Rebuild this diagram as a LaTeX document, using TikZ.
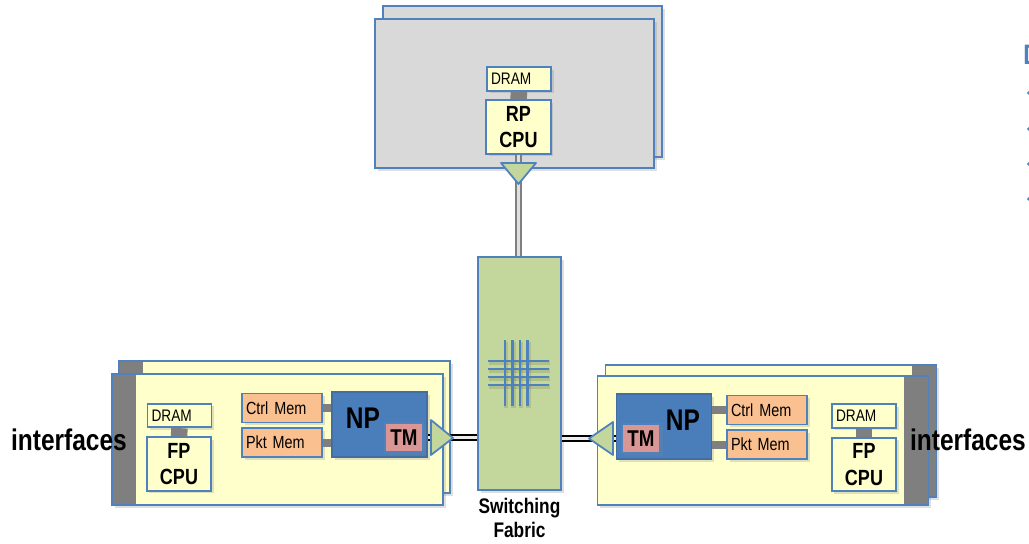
\documentclass[tikz,border=0pt]{standalone}
\usepackage{fontspec}
\setmainfont[FakeStretch=0.82]{Liberation Sans}
\usetikzlibrary{shadows}
\definecolor{blueline}{RGB}{79,129,189}
\definecolor{npblue}{RGB}{74,126,187}
\definecolor{cardgray}{RGB}{217,217,217}
\definecolor{cardyellow}{RGB}{255,255,204}
\definecolor{fabricgreen}{RGB}{195,214,155}
\definecolor{memorange}{RGB}{250,192,144}
\definecolor{tmpink}{RGB}{217,150,148}
\definecolor{tabgray}{RGB}{127,127,127}

\tikzset{
  box/.style={draw=blueline, line width=1pt, inner sep=0pt,
    drop shadow={shadow xshift=1.5pt, shadow yshift=-1.5pt, opacity=0.25}},
  rpcardbox/.style={box, fill=cardgray, minimum width=5.58cm},
  card/.style={box, fill=cardyellow, minimum width=6.62cm},
  tableft/.style={card, path picture={\fill[tabgray] (path picture bounding box.north west)
    rectangle ([xshift=0.48cm]path picture bounding box.south west);}},
  tabright/.style={card, path picture={\fill[tabgray] ([xshift=-0.49cm]path picture bounding box.north east)
    rectangle (path picture bounding box.south east);}},
  dram/.style={box, fill=cardyellow, minimum width=1.28cm, minimum height=0.47cm,
    text width=1.12cm, align=left, font=\fontsize{9.5}{11}\selectfont},
  cpu/.style={box, fill=cardyellow, minimum width=1.29cm, minimum height=1.07cm,
    align=center, font=\bfseries\fontsize{12.5}{15}\selectfont},
  mem/.style={box, fill=memorange, minimum width=1.6cm, minimum height=0.58cm,
    text width=1.44cm, align=left, font=\fontsize{10}{12}\selectfont},
  np/.style={box, draw=blueline!85!black, fill=npblue, minimum width=1.9cm, minimum height=1.3cm},
  nptext/.style={inner sep=0pt, font=\bfseries\fontsize{17}{20}\selectfont},
  tm/.style={box, fill=tmpink, minimum width=0.76cm, minimum height=0.58cm,
    font=\bfseries\fontsize{13}{15}\selectfont},
  fabric/.style={box, fill=fabricgreen, minimum width=1.66cm, minimum height=4.66cm},
  tri/.style={draw=blueline, line width=1pt, fill=fabricgreen, line join=round},
  bus/.style={draw=tabgray, line width=0.33cm},
  membus/.style={draw=tabgray, line width=0.16cm},
  link/.style={draw=black, line width=0.8pt, double=white!85!gray, double distance=2pt},
  rplink/.style={draw=tabgray, line width=0.8pt, double=gray!25, double distance=2pt},
  xbar/.style={draw=blueline, line width=1.4pt},
  xbarshade/.style={draw=black, opacity=0.1, line width=2.6pt},
  iface/.style={inner sep=0pt, font=\bfseries\fontsize{17}{20}\selectfont}
}

\begin{document}
\begin{tikzpicture}[x=0.02cm, y=-0.02cm]
  \useasboundingbox (0,0) rectangle (1029,544);

  % Route processor card
  \node[rpcardbox, minimum height=3.02cm] (rpback) at (522.5,81.5) {};
  \node[rpcardbox, minimum height=2.98cm] (rpcard) at (514.5,93.5) {};
  \node[dram] (rpdram) at (519,79) {DRAM};
  \node[cpu] (rpcpu) at (518.5,127) {RP\\CPU};
  \draw[bus] (rpdram.south) -- (rpcpu.north);

  % Switching fabric
  \node[fabric] (fabric) at (519.5,373.5) {};
  \foreach \x in {505,512.5,520,527.5}
    \draw[xbarshade] (\x+1,341.5) -- (\x+1,407.5);
  \foreach \y in {361,369,377,385}
    \draw[xbarshade] (489,\y+1.5) -- (550,\y+1.5);
  \foreach \x in {505,512.5,520,527.5}
    \draw[xbar] (\x,340) -- (\x,406);
  \foreach \y in {361,369,377,385}
    \draw[xbar] (488,\y) -- (549,\y);
  \node[anchor=north, inner sep=0pt, align=center, font=\bfseries\fontsize{12}{13.5}\selectfont]
    (fablabel) at ([yshift=-0.15cm]fabric.south) {Switching\\Fabric};

  % RP link to fabric
  \draw[rplink] (rpcpu.south) -- (rpcpu.south |- fabric.north);
  \draw[tri] (501,163) -- (518.5,184) -- (536,163) -- cycle;

  % Left line card
  \node[tableft, minimum height=2.64cm] (lback) at (284.5,427) {};
  \node[tableft, minimum height=2.62cm] (lcard) at (277.5,439.5) {};
  \node[dram] (ldram) at (179.5,415.5) {DRAM};
  \node[cpu] (lcpu) at (179,464) {FP\\CPU};
  \draw[bus] (ldram.south) -- (lcpu.north);
  \node[mem] (lctrl) at (282,408) {Ctrl Mem};
  \node[mem] (lpkt) at (282,442.5) {Pkt Mem};
  \node[np] (lnp) at (379.5,424.5) {};
  \node[nptext] (lnplabel) at ([xshift=-0.33cm,yshift=0.13cm]lnp.center) {NP};
  \node[tm] (ltm) at (404,437.5) {TM};
  \draw[membus] (lctrl.east) -- (lctrl.east -| lnp.west);
  \draw[membus] (lpkt.east) -- (lpkt.east -| lnp.west);
  \draw[link] (lnp.east |- ltm.east) -- (ltm.east -| fabric.west);
  \draw[tri] (431,420) -- (453,438) -- (431,455) -- cycle;

  % Right line card
  \node[tabright, minimum height=2.64cm] (rback) at (771,431) {};
  \node[tabright, minimum height=2.58cm] (rcard) at (763,440.5) {};
  \node[dram] (rdram) at (864,416) {DRAM};
  \node[cpu] (rcpu) at (864,464.5) {FP\\CPU};
  \draw[bus] (rdram.south) -- (rcpu.north);
  \node[mem] (rctrl) at (767,410) {Ctrl Mem};
  \node[mem] (rpkt) at (767,444.5) {Pkt Mem};
  \node[np] (rnp) at (664,426.5) {};
  \node[nptext] (rnplabel) at ([xshift=0.38cm,yshift=0.13cm]rnp.center) {NP};
  \node[tm] (rtm) at (641,438.5) {TM};
  \draw[membus] (rctrl.west) -- (rctrl.west -| rnp.east);
  \draw[membus] (rpkt.west) -- (rpkt.west -| rnp.east);
  \draw[link] (rnp.west |- rtm.west) -- (rtm.west -| fabric.east);
  \draw[tri] (613,422) -- (589,438.5) -- (613,455) -- cycle;

  % Interfaces
  \node[iface] (lif) at (69,440) {interfaces};
  \node[iface] (rif) at (968,440) {interfaces};

  % Clipped slide text at the right edge
  \begin{scope}
    \clip (0,0) rectangle (1029,544);
    \node[anchor=west, inner sep=0pt, text=blueline, font=\bfseries\fontsize{16}{18}\selectfont]
      (title) at (1023,55) {D};
    \foreach \y in {93,129,164,199}
      \fill[blueline] (1028.5,\y) circle (0.035cm);
  \end{scope}
\end{tikzpicture}
\end{document}
